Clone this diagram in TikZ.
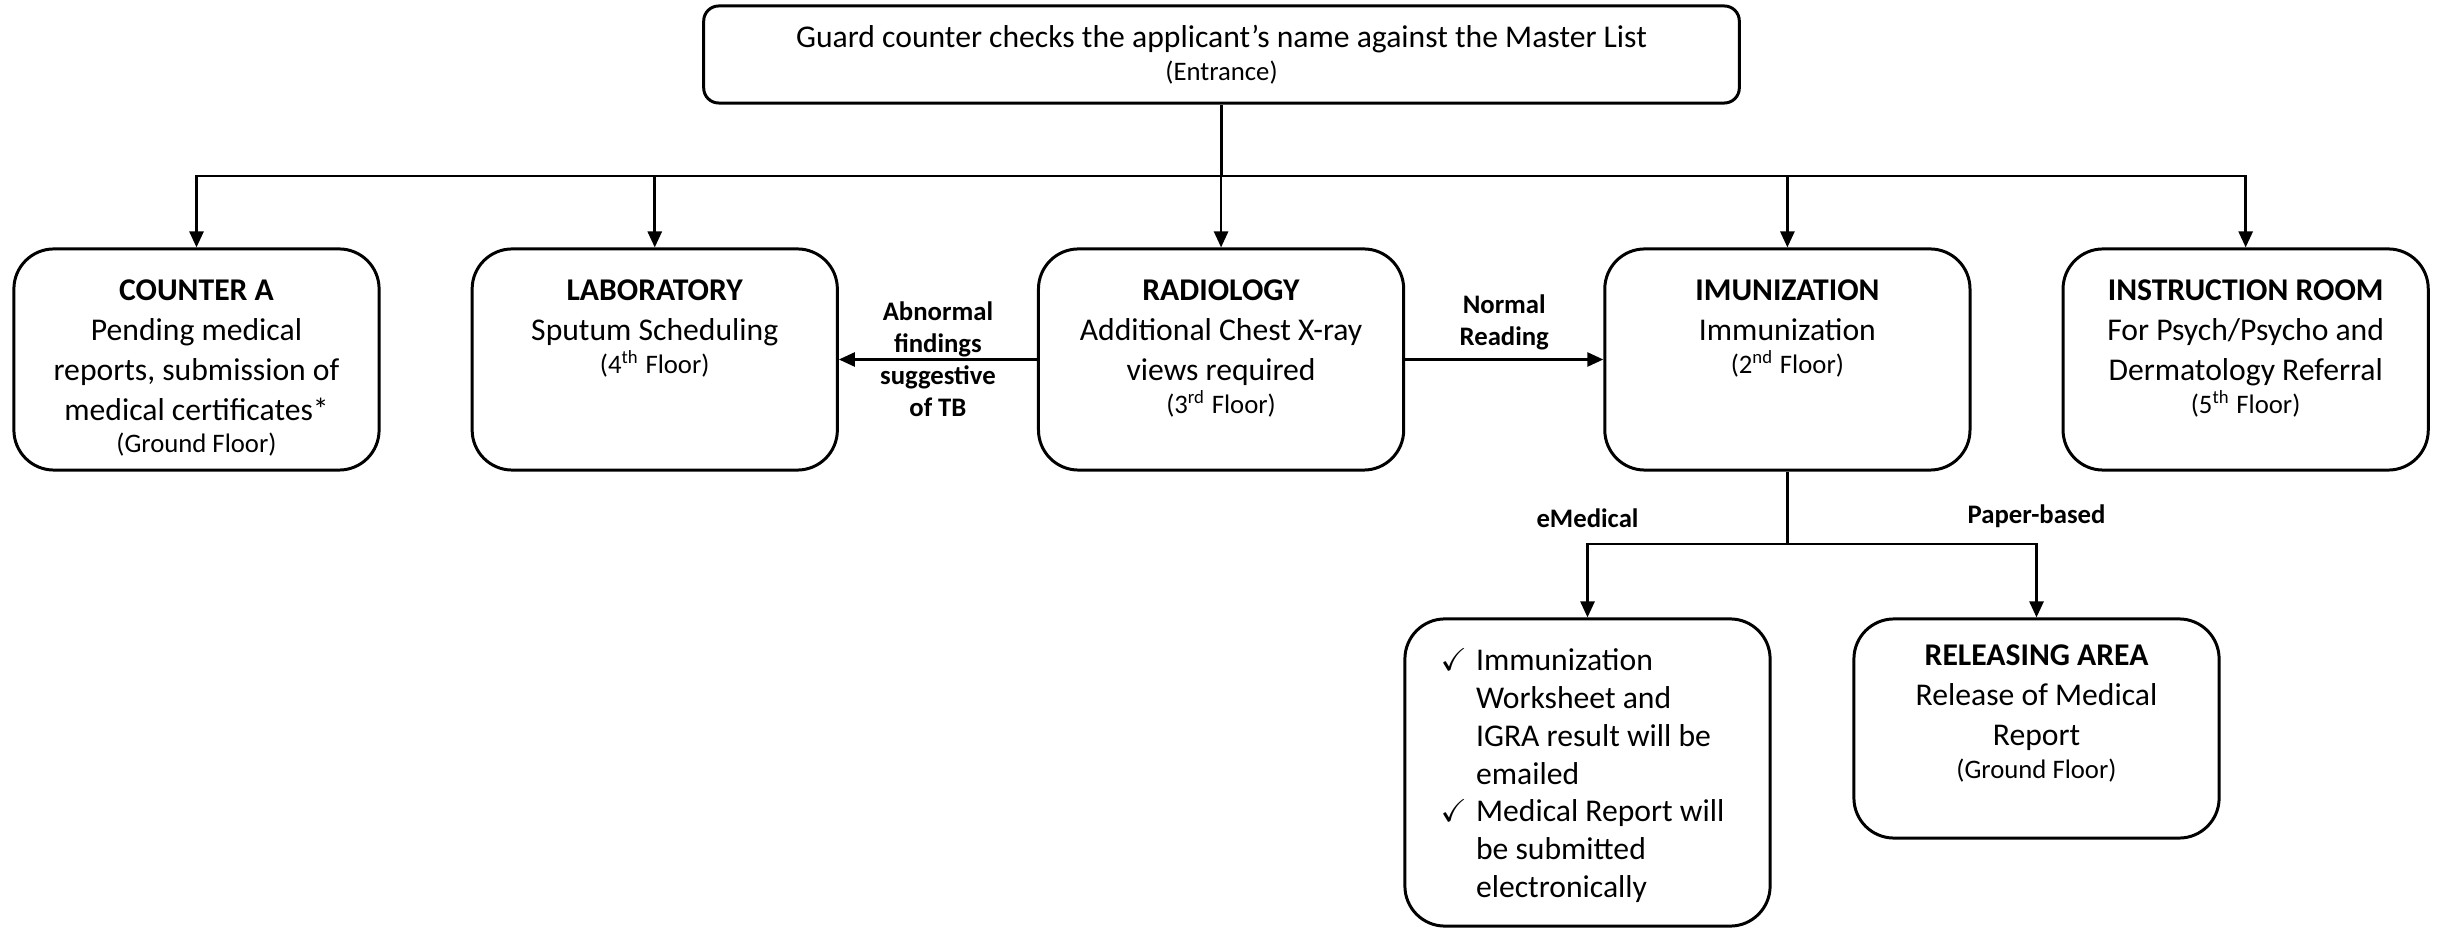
\documentclass[tikz,border=0pt]{standalone}
\usepackage{fontspec}
\setmainfont{Carlito}
\usepackage{amssymb}
\usetikzlibrary{positioning}
\usetikzlibrary{arrows.meta}

\newcommand{\mainsize}{\fontsize{9}{11.3}\selectfont}
\newcommand{\floorsize}{\fontsize{7.6}{11.3}\selectfont}
\newcommand{\tagsize}{\fontsize{7.6}{9.1}\selectfont\bfseries}

\begin{document}
\begin{tikzpicture}[
 x=0.01cm, y=-0.01cm,
 station/.style={rectangle, rounded corners=0.4cm, draw=black, line width=0.85pt, text width=3.55cm, inner xsep=0.05cm, inner ysep=0pt, align=flush center, text height=0.52cm, font=\mainsize},
 rowstation/.style={station, text depth=1.69cm},
 arrow/.style={-{Triangle[length=0.16cm, width=0.14cm]}, line width=0.75pt},
 tag/.style={font=\tagsize, align=flush center, inner sep=0pt}
]
\useasboundingbox (0,0) rectangle (2443,928);

% Entrance
\node[rectangle, rounded corners=0.15cm, draw=black, line width=0.85pt, minimum width=10.35cm, minimum height=0.97cm, align=flush center, inner sep=0pt, font=\mainsize] (guard) at (1221.5,54.5)
 {Guard counter checks the applicant’s name against the Master List\\[-2pt]{\floorsize (Entrance)}};

% Stations on the first floor row
\node[rowstation] (counterA) at (196.5,359.5)
 {\textbf{COUNTER A}\\Pending medical\\reports, submission of\\medical certificates*\\[-2pt]{\floorsize (Ground Floor)}};
\node[rowstation, right=0.90cm of counterA] (lab)
 {\textbf{LABORATORY}\\Sputum Scheduling\\[-2pt]{\floorsize (4\textsuperscript{th} Floor)}};
\node[rowstation, right=1.98cm of lab] (radio)
 {\textbf{RADIOLOGY}\\Additional Chest X-ray\\views required\\[-2pt]{\floorsize (3\textsuperscript{rd} Floor)}};
\node[rowstation, right=1.98cm of radio] (immun)
 {\textbf{IMUNIZATION}\\Immunization\\[-2pt]{\floorsize (2\textsuperscript{nd} Floor)}};
\node[rowstation, right=0.90cm of immun] (instr)
 {\textbf{INSTRUCTION ROOM}\\For Psych/Psycho and\\Dermatology Referral\\[-2pt]{\floorsize (5\textsuperscript{th} Floor)}};

% Split from the entrance
\coordinate (split) at (1221.5,176);
\draw[line width=0.75pt] (guard.south) -- (split);
\foreach \n in {counterA,lab,radio,immun,instr} {
 \draw[arrow] (split) -| (\n.north);
}

% Radiology results
\draw[arrow] (radio.west) -- (lab.east) node[midway, tag] (abnormal)
 {Abnormal\\findings\\suggestive\\of TB};
\draw[arrow] (radio.east) -- (immun.west) node[midway, above=0.08cm, tag] (normal)
 {Normal\\Reading};

% Release of results
\node[station, text depth=2.55cm] (emed) at (1587.5,772.5)
 {\hspace*{-0.1cm}\def\arraystretch{0.95}\begin{tabular}[t]{@{}l@{\hspace{0.09cm}}l@{}}
 $\checkmark$ & Immunization\\
 & Worksheet and\\
 & IGRA result will be\\
 & emailed\\
 $\checkmark$ & Medical Report will\\
 & be submitted\\
 & electronically
 \end{tabular}};
\node[station, text height=0.47cm, text depth=1.72cm] (release) at (2036.5,728.5)
 {\textbf{RELEASING AREA}\\Release of Medical\\Report\\[-2pt]{\floorsize (Ground Floor)}};

\coordinate (branch) at (immun.south |- 0,544);
\draw[line width=0.75pt] (immun.south) -- (branch);
\draw[arrow] (branch) -| (emed.north) node[pos=0.5, above=0.15cm, tag] (emedical) {eMedical};
\draw[arrow] (branch) -| (release.north) node[pos=0.5, above=0.15cm, tag] (paper) {Paper-based};
\end{tikzpicture}
\end{document}
